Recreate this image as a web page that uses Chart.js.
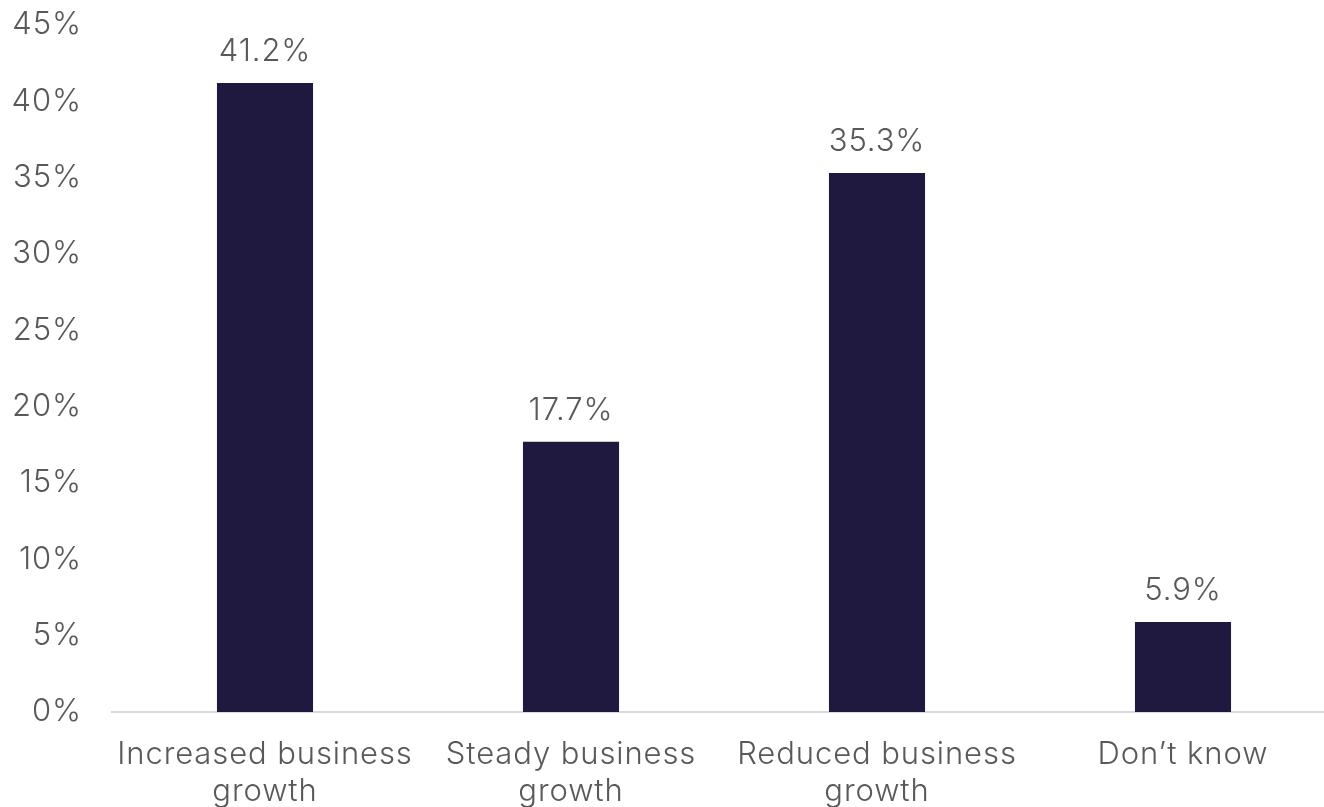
<!DOCTYPE html>
<html>
<head>
<meta charset="utf-8">
<script src="https://cdn.jsdelivr.net/npm/chart.js@4.4.1/dist/chart.umd.min.js"></script>
<style>
    html, body { margin: 0; padding: 0; background: #fff; overflow: hidden; }
    #wrap { position: relative; width: 1336px; height: 850px; }
</style>
</head>
<body>
<div id="wrap"><canvas id="growthChart"></canvas></div>
<script>
const categories = [
    ["Increased business", "growth"],
    ["Steady business", "growth"],
    ["Reduced business", "growth"],
    "Don\u2019t know",
];
const shares = [41.2, 17.7, 35.3, 5.9];
const yTicks = [0, 5, 10, 15, 20, 25, 30, 35, 40, 45];

const textColor = "#595959";
const fontFamily = "Inter, 'Noto Sans', sans-serif";
const fontSize = 31;

// slightly looser tracking for all canvas text
const wideText = {
    id: "wideText",
    beforeDraw(chart) {
        chart.ctx.letterSpacing = "0.9px";
    },
};

// writes the percentage just above each bar
const barValueLabels = {
    id: "barValueLabels",
    afterDatasetsDraw(chart) {
        const ctx = chart.ctx;
        const meta = chart.getDatasetMeta(0);
        ctx.save();
        ctx.font = "300 " + fontSize + "px " + fontFamily;
        ctx.fillStyle = textColor;
        ctx.textAlign = "center";
        ctx.textBaseline = "middle";
        meta.data.forEach((bar, i) => {
            ctx.fillText(shares[i].toFixed(1) + "%", bar.x, bar.y - 31);
        });
        ctx.restore();
    },
};

new Chart(document.getElementById("growthChart"), {
    type: "bar",
    data: {
        labels: categories,
        datasets: [
            {
                data: shares,
                backgroundColor: "#1f1940",
                barPercentage: 0.314,
                categoryPercentage: 1,
            },
        ],
    },
    options: {
        responsive: true,
        maintainAspectRatio: false,
        animation: false,
        layout: { padding: 0 },
        plugins: {
            legend: { display: false },
            tooltip: { enabled: false },
        },
        scales: {
            x: {
                grid: { display: false, drawTicks: false },
                border: { display: true, color: "#d9d9d9", width: 2 },
                ticks: {
                    color: textColor,
                    font: { family: fontFamily, size: fontSize, weight: "300", lineHeight: 1.2 },
                    padding: 24,
                    maxRotation: 0,
                    autoSkip: false,
                },
                afterFit: (scale) => { scale.height = 138; },
            },
            y: {
                min: 0,
                max: 45,
                afterBuildTicks: (scale) => {
                    scale.ticks = yTicks.map((v) => ({ value: v }));
                },
                grid: { display: false, drawTicks: false },
                border: { display: false },
                ticks: {
                    color: textColor,
                    font: { family: fontFamily, size: fontSize, weight: "300" },
                    padding: 30,
                    callback: (value) => value + "%",
                },
                afterFit: (scale) => {
                    scale.width = 112;
                    scale.paddingTop = 25;
                    scale.paddingBottom = 0;
                },
            },
        },
    },
    plugins: [wideText, barValueLabels],
});
</script>
</body>
</html>
